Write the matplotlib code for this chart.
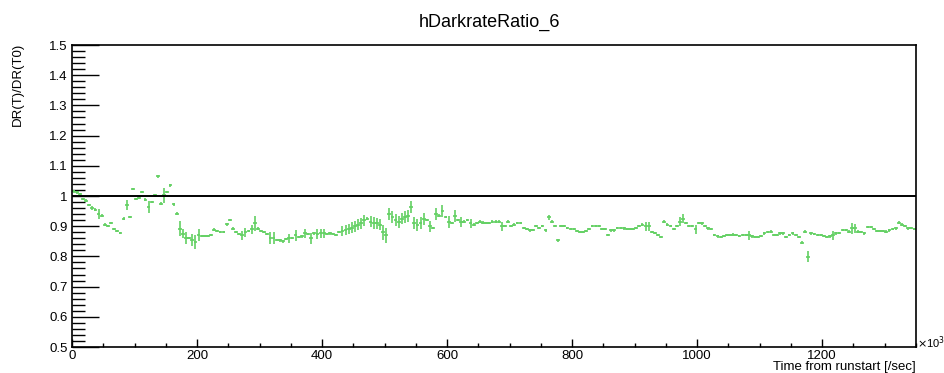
import matplotlib
matplotlib.use('Agg')
import matplotlib.pyplot as plt
import numpy as np

plt.rcParams['font.family'] = ['Liberation Sans', 'DejaVu Sans']

# bin width in units of 10^3 sec
bin_width = 5
x_start = 0

ratio = [
    1.015, 1.012, 1.005, 0.99, 0.985, 0.97, 0.96, 0.955, 0.94, 0.935,
    0.905, 0.90, 0.91, 0.89, 0.885, 0.877, 0.925, 0.97, 0.93, 1.024,
    0.99, 0.995, 1.013, 0.988, 0.964, 0.98, 1.002, 1.065, 0.975, 1.002,
    1.013, 1.035, 0.972, 0.942, 0.892, 0.875, 0.86, 0.86, 0.853, 0.848,
    0.87, 0.867, 0.867, 0.868, 0.87, 0.889, 0.884, 0.88, 0.88, 0.906,
    0.92, 0.892, 0.88, 0.875, 0.87, 0.88, 0.885, 0.89, 0.91, 0.892,
    0.885, 0.88, 0.875, 0.86, 0.86, 0.855, 0.853, 0.85, 0.858, 0.86,
    0.86, 0.87, 0.865, 0.866, 0.876, 0.875, 0.86, 0.876, 0.875, 0.876,
    0.876, 0.875, 0.876, 0.874, 0.87, 0.88, 0.885, 0.888, 0.89, 0.895,
    0.90, 0.905, 0.91, 0.92, 0.925, 0.915, 0.91, 0.91, 0.905, 0.88,
    0.87, 0.94, 0.93, 0.92, 0.915, 0.925, 0.93, 0.935, 0.965, 0.91,
    0.905, 0.91, 0.925, 0.92, 0.90, 0.895, 0.94, 0.935, 0.95, 0.93,
    0.915, 0.91, 0.935, 0.92, 0.915, 0.915, 0.92, 0.91, 0.905, 0.91,
    0.915, 0.912, 0.91, 0.91, 0.915, 0.915, 0.915, 0.90, 0.90, 0.915,
    0.90, 0.905, 0.91, 0.91, 0.895, 0.89, 0.886, 0.888, 0.90, 0.895,
    0.90, 0.886, 0.93, 0.915, 0.90, 0.853, 0.90, 0.90, 0.895, 0.89,
    0.89, 0.885, 0.88, 0.88, 0.885, 0.89, 0.90, 0.90, 0.90, 0.89,
    0.89, 0.87, 0.886, 0.886, 0.895, 0.895, 0.893, 0.89, 0.89, 0.89,
    0.895, 0.90, 0.905, 0.90, 0.90, 0.88, 0.878, 0.87, 0.864, 0.915,
    0.905, 0.90, 0.89, 0.90, 0.915, 0.925, 0.91, 0.90, 0.90, 0.89,
    0.91, 0.909, 0.90, 0.893, 0.89, 0.87, 0.866, 0.865, 0.868, 0.87,
    0.87, 0.872, 0.87, 0.868, 0.87, 0.87, 0.87, 0.866, 0.865, 0.865,
    0.868, 0.876, 0.88, 0.882, 0.87, 0.87, 0.876, 0.876, 0.865, 0.87,
    0.876, 0.87, 0.865, 0.846, 0.882, 0.799, 0.876, 0.875, 0.87, 0.87,
    0.868, 0.865, 0.866, 0.87, 0.876, 0.878, 0.887, 0.887, 0.882, 0.893,
    0.893, 0.882, 0.88, 0.876, 0.898, 0.898, 0.89, 0.885, 0.885, 0.884,
    0.882, 0.886, 0.89, 0.893, 0.912, 0.905, 0.90, 0.893, 0.895, 0.89,
]

ratio_err = [
    .004, .004, .004, .004, .004, .004, .008, .006, .016, .004,
    .004, .004, .004, .004, .004, .004, .006, .017, .004, .004,
    .004, .004, .004, .004, .02, .004, .004, .004, .004, .025,
    .004, .004, .004, .004, .025, .015, .02, .004, .02, .022,
    .02, .004, .004, .004, .004, .004, .004, .004, .004, .004,
    .004, .004, .004, .004, .015, .015, .004, .015, .025, .004,
    .004, .004, .004, .02, .02, .004, .004, .004, .004, .015,
    .004, .018, .004, .004, .016, .004, .018, .004, .016, .016,
    .016, .004, .004, .004, .004, .004, .016, .016, .016, .018,
    .018, .018, .018, .018, .004, .018, .02, .018, .018, .025,
    .025, .02, .02, .02, .02, .018, .02, .02, .02, .02,
    .02, .02, .02, .004, .018, .004, .02, .004, .02, .004,
    .02, .004, .02, .004, .016, .004, .004, .015, .004, .004,
    .004, .004, .004, .004, .004, .004, .004, .015, .004, .004,
    .004, .004, .004, .004, .004, .004, .004, .004, .004, .004,
    .004, .004, .008, .004, .004, .004, .004, .004, .004, .004,
    .004, .004, .004, .004, .004, .004, .004, .004, .004, .004,
    .004, .004, .004, .004, .004, .004, .004, .004, .004, .004,
    .004, .004, .004, .015, .015, .004, .004, .004, .004, .004,
    .004, .004, .004, .004, .015, .015, .004, .004, .004, .015,
    .004, .004, .004, .004, .004, .004, .004, .004, .004, .004,
    .004, .004, .004, .004, .004, .004, .015, .004, .004, .004,
    .004, .004, .004, .004, .004, .004, .004, .004, .004, .004,
    .004, .004, .004, .004, .004, .018, .004, .004, .004, .004,
    .004, .004, .004, .015, .004, .004, .004, .004, .004, .018,
    .015, .004, .004, .004, .004, .004, .004, .004, .004, .004,
    .004, .004, .004, .004, .004, .004, .004, .004, .004, .004,
]

x_major = [0, 200, 400, 600, 800, 1000, 1200]
y_major = [0.5, 0.6, 0.7, 0.8, 0.9, 1.0, 1.1, 1.2, 1.3, 1.4, 1.5]
y_labels = ['0.5', '0.6', '0.7', '0.8', '0.9', '1', '1.1', '1.2', '1.3', '1.4', '1.5']

centers = x_start + bin_width * (np.arange(len(ratio)) + 0.5)

fig = plt.figure(figsize=(9.45, 3.73), dpi=100)
ax = fig.add_axes([72/945, 1 - 347/373, (916 - 72)/945, (347 - 45)/373])

ax.errorbar(centers, ratio, yerr=ratio_err, xerr=3.0, fmt='none',
            ecolor='#62d062', elinewidth=1.2, capsize=0)
ax.axhline(1.0, color='black', lw=1.4)

ax.set_xlim(0, 1350)
ax.set_ylim(0.5, 1.5)

ax.set_xticks(x_major)
ax.set_xticklabels([str(v) for v in x_major])
ax.set_xticks(np.arange(0, 1351, 50), minor=True)
ax.set_yticks(y_major)
ax.set_yticklabels(y_labels)
ax.set_yticks(np.arange(0.5, 1.501, 0.02), minor=True)

ax.tick_params(axis='both', which='both', direction='in', labelsize=9.5, color='black')
ax.tick_params(axis='y', which='major', length=19.5, width=1.0, pad=3)
ax.tick_params(axis='y', which='minor', length=9.5, width=1.0)
ax.tick_params(axis='x', which='major', length=6, width=1.0, pad=2)
ax.tick_params(axis='x', which='minor', length=3, width=1.0)
for s in ax.spines.values():
    s.set_linewidth(1.2)

fig.text(490/945, 1 - 22/373, 'hDarkrateRatio_6', ha='center', va='center', fontsize=13)
fig.text(18/945, 1 - 43/373, 'DR(T)/DR(T0)', rotation=90, ha='center', va='top', fontsize=9.5)
fig.text(916/945, 1 - 367/373, 'Time from runstart [/sec]', ha='right', va='center', fontsize=9.5)
fig.text(917/945, 1 - 343/373, r'$\times$10$^{3}$', ha='left', va='center', fontsize=8)

plt.savefig('out.png', dpi=100)
